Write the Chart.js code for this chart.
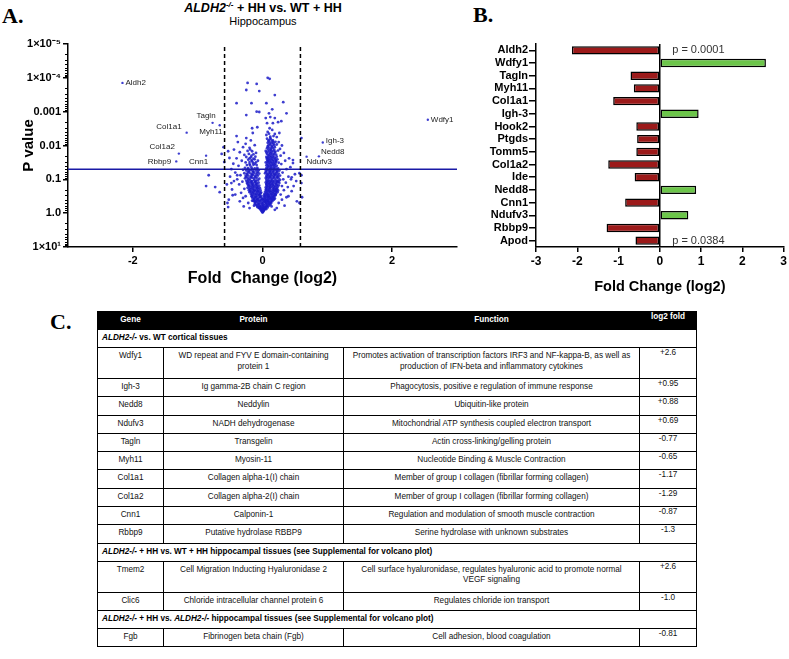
<!DOCTYPE html>
<html>
<head>
<meta charset="utf-8">
<script src="https://cdn.jsdelivr.net/npm/chart.js@4.4.1/dist/chart.umd.min.js"></script>
<style>
  body { margin: 0; width: 789px; height: 659px; background: #fff; position: relative; overflow: hidden; font-family: 'Liberation Sans', Arial, sans-serif; }
  .panel { position: absolute; font-family: 'Liberation Serif', 'Times New Roman', serif; font-weight: bold; font-size: 22px; line-height: 22px; }
  #titleA { position: absolute; left: 0; width: 526px; top: 1px; text-align: center; font-size: 12.5px; font-weight: bold; line-height: 14px; }
  #titleA sup { font-size: 8px; vertical-align: 5px; line-height: 0; font-style: italic; }
  #subA { position: absolute; left: 0; width: 526px; top: 15px; text-align: center; font-size: 11px; line-height: 13px; }
  canvas { position: absolute; }
  #tbl { position: absolute; left: 97px; top: 311px; border-collapse: collapse; table-layout: fixed; width: 599px; font-size: 8.2px; color: #111; }
  #tbl td, #tbl th { border: 1px solid #000; padding: 0; vertical-align: top; text-align: center; white-space: pre-line; line-height: 10.5px; }
  #tbl th { background: #000; color: #fff; font-weight: bold; padding-top: 3px; }
  #tbl th.fold { padding-top: 0; }
  #tbl td { padding-top: 3px; }
  #tbl td.fold { padding-top: 0; }
  #tbl tr.hd { height: 18px; }
  #tbl tr.sec { height: 18px; }
  #tbl tr.sec td { text-align: left; padding-left: 4px; font-weight: bold; color: #000; }
  #tbl tr.r1 { height: 18.3px; }
  #tbl tr.r2 { height: 31px; }
</style>
</head>
<body>
<div class="panel" style="left:2px;top:5px">A.</div>
<div class="panel" style="left:473px;top:4px">B.</div>
<div class="panel" style="left:50px;top:311px">C.</div>
<div id="titleA"><i>ALDH2</i><sup>-/-</sup> + HH vs. WT + HH</div>
<div id="subA">Hippocampus</div>
<canvas id="volcano" width="462" height="295" style="left:0;top:0"></canvas>
<canvas id="bars" width="329" height="300" style="left:460px;top:0"></canvas>
<table id="tbl">
  <colgroup><col style="width:66px"><col style="width:180px"><col style="width:296px"><col style="width:57px"></colgroup>
  <tbody id="tbody"></tbody>
</table>
<script>
// ---- volcano (panel A) ----
const fcCutoff = 0.585;
const pCutoff = 0.05;
const volcanoXTicks = [-2, 0, 2];
const volcanoYTicks = [-1, 0, 1, 2, 3, 4, 5]; // -log10(p)
const volcanoYLabels = ['1×10¹', '1.0', '0.1', '0.01', '0.001', '1×10⁻⁴', '1×10⁻⁵'];

const geneNames = ['Aldh2', 'Wdfy1', 'Tagln', 'Myh11', 'Col1a1', 'Col1a2', 'Rbbp9', 'Cnn1', 'Igh-3', 'Nedd8', 'Ndufv3'];
const geneFC = [-2.16, 2.55, -0.77, -0.66, -1.17, -1.29, -1.33, -0.87, 0.93, 0.87, 0.68];
const geneNegLogP = [3.85, 2.76, 2.67, 2.6, 2.38, 1.76, 1.53, 1.7, 2.09, 1.68, 1.67];

// unlabelled proteins, [log2 fold, -log10 p]
const cloud = [
  [0.00,0.02],[0.01,0.04],[-0.01,0.05],[0.02,0.07],[-0.02,0.08],[0.03,0.10],[-0.03,0.11],[0.00,0.09],[0.04,0.13],[-0.04,0.14],[0.01,0.12],[0.05,0.15],[-0.05,0.15],[0.02,0.14],[-0.01,0.13],[0.06,0.12],
  [0.0,0.06],[0.02,0.1],[-0.02,0.12],[0.03,0.16],[-0.04,0.18],[0.05,0.19],[-0.06,0.16],[0.07,0.21],[-0.08,0.22],[0.0,0.15],[0.01,0.21],[-0.03,0.2],
  [-0.08,0.18],[-0.06,0.2],[-0.03,0.17],[0.0,0.19],[0.03,0.18],[0.06,0.2],[0.08,0.17],[0.1,0.22],[-0.1,0.24],[-0.07,0.26],[-0.04,0.23],[-0.01,0.25],[0.02,0.24],[0.05,0.26],[0.07,0.23],[0.09,0.27],[0.12,0.25],
  [-0.11,0.3],[-0.09,0.32],[-0.05,0.29],[-0.02,0.31],[0.01,0.3],[0.04,0.33],[0.06,0.29],[0.08,0.32],[0.11,0.3],[0.13,0.33],[-0.12,0.34],[-0.07,0.35],[0.03,0.35],[0.1,0.35],[-0.13,0.22],[0.14,0.2],
  [-0.12,0.27],[-0.06,0.28],[0.0,0.27],[0.05,0.3],[0.1,0.28],[0.13,0.29],[-0.14,0.36],[-0.11,0.35],[-0.04,0.36],[0.0,0.34],[0.06,0.36],[0.09,0.34],[0.15,0.35],
  [-0.16,0.37],[-0.13,0.39],[-0.1,0.38],[-0.08,0.4],[-0.05,0.37],[-0.02,0.39],[0.0,0.41],[0.02,0.38],[0.05,0.4],[0.07,0.37],[0.09,0.39],[0.12,0.41],[0.14,0.38],[0.17,0.4],
  [-0.13,0.42],[-0.07,0.41],[-0.01,0.42],[0.03,0.41],[0.09,0.42],[0.15,0.42],[0.18,0.41],
  [-0.15,0.44],[-0.12,0.46],[-0.09,0.43],[-0.06,0.45],[-0.03,0.47],[0.01,0.44],[0.04,0.46],[0.06,0.43],[0.08,0.47],[0.11,0.45],[0.13,0.43],[0.16,0.46],[0.19,0.44],
  [-0.16,0.48],[-0.1,0.47],[-0.04,0.48],[0.03,0.49],[0.09,0.48],[0.14,0.47],[0.17,0.48],
  [-0.17,0.5],[-0.14,0.52],[-0.11,0.49],[-0.08,0.51],[-0.05,0.53],[-0.02,0.5],[0.02,0.52],[0.05,0.5],[0.07,0.53],[0.1,0.51],[0.12,0.49],[0.15,0.52],[0.18,0.5],[0.2,0.53],
  [-0.16,0.54],[-0.1,0.55],[-0.04,0.55],[0.04,0.55],[0.09,0.54],[0.13,0.55],[0.17,0.54],[0.2,0.55],
  [-0.18,0.57],[-0.15,0.59],[-0.12,0.56],[-0.09,0.58],[-0.06,0.56],[-0.03,0.59],[0.03,0.57],[0.06,0.59],[0.08,0.56],[0.11,0.58],[0.14,0.57],[0.16,0.59],[0.19,0.56],[0.21,0.58],
  [-0.2,0.62],[-0.17,0.63],[-0.14,0.61],[-0.11,0.64],[-0.08,0.62],[-0.05,0.63],[-0.02,0.61],[0.04,0.63],[0.07,0.61],[0.09,0.64],[0.12,0.62],[0.15,0.63],[0.18,0.61],[0.21,0.64],[0.23,0.62],
  [-0.19,0.65],[-0.13,0.66],[-0.07,0.65],[0.06,0.66],[0.11,0.65],[0.17,0.66],[0.2,0.65],
  [-0.21,0.68],[-0.18,0.7],[-0.15,0.67],[-0.12,0.69],[-0.09,0.68],[-0.06,0.7],[-0.03,0.67],[0.05,0.69],[0.08,0.68],[0.1,0.7],[0.13,0.67],[0.16,0.69],[0.19,0.68],[0.22,0.7],[0.24,0.67],
  [-0.2,0.72],[-0.14,0.72],[-0.08,0.73],[0.06,0.72],[0.11,0.73],[0.17,0.72],[0.21,0.72],
  [-0.23,0.75],[-0.19,0.76],[-0.16,0.74],[-0.13,0.77],[-0.1,0.75],[-0.07,0.76],[-0.04,0.74],[0.05,0.76],[0.07,0.74],[0.1,0.77],[0.12,0.75],[0.15,0.76],[0.18,0.74],[0.2,0.77],[0.23,0.75],
  [-0.21,0.79],[-0.15,0.79],[-0.09,0.79],[0.07,0.79],[0.12,0.79],[0.17,0.79],[0.23,0.79],
  [-0.22,0.82],[-0.2,0.84],[-0.17,0.81],[-0.14,0.83],[-0.11,0.82],[-0.08,0.84],[-0.05,0.81],[0.06,0.83],[0.08,0.81],[0.11,0.84],[0.13,0.82],[0.16,0.83],[0.19,0.81],[0.22,0.84],[0.25,0.82],
  [-0.23,0.86],[-0.16,0.86],[-0.1,0.86],[0.06,0.86],[0.1,0.86],[0.15,0.86],[0.21,0.86],
  [-0.24,0.89],[-0.21,0.91],[-0.18,0.9],[-0.15,0.88],[-0.12,0.91],[-0.09,0.89],[-0.06,0.9],[0.05,0.91],[0.07,0.88],[0.09,0.9],[0.12,0.89],[0.14,0.91],[0.17,0.88],[0.2,0.9],[0.23,0.91],[0.26,0.89],
  [-0.23,0.93],[-0.17,0.93],[-0.11,0.93],[0.07,0.93],[0.11,0.93],[0.16,0.93],[0.22,0.93],[0.25,0.93],
  [-0.25,0.96],[-0.22,0.98],[-0.19,0.97],[-0.16,0.95],[-0.13,0.98],[-0.1,0.96],[-0.07,0.97],[0.06,0.98],[0.08,0.95],[0.1,0.97],[0.13,0.96],[0.15,0.98],[0.18,0.95],[0.21,0.97],[0.24,0.96],[0.27,0.98],
  [-0.27,1.03],[-0.23,1.04],[-0.2,1.02],[-0.16,1.05],[-0.13,1.03],[-0.09,1.04],[-0.05,1.02],[0.05,1.04],[0.08,1.02],[0.1,1.05],[0.13,1.03],[0.16,1.04],[0.19,1.02],[0.22,1.05],[0.25,1.03],
  [-0.25,1.07],[-0.18,1.06],[-0.11,1.07],[0.07,1.07],[0.12,1.07],[0.18,1.07],[0.23,1.07],
  [-0.26,1.1],[-0.22,1.11],[-0.18,1.09],[-0.15,1.12],[-0.11,1.1],[-0.07,1.11],[0.06,1.1],[0.09,1.12],[0.11,1.09],[0.14,1.11],[0.17,1.1],[0.2,1.12],[0.24,1.09],[0.27,1.11],
  [-0.24,1.14],[-0.16,1.14],[-0.09,1.14],[0.08,1.14],[0.13,1.14],[0.19,1.14],[0.23,1.14],
  [-0.28,1.18],[-0.24,1.17],[-0.2,1.19],[-0.17,1.16],[-0.13,1.18],[-0.09,1.19],[-0.05,1.17],[0.04,1.18],[0.07,1.16],[0.1,1.19],[0.12,1.17],[0.15,1.18],[0.18,1.16],[0.21,1.19],[0.25,1.17],
  [-0.22,1.22],[-0.15,1.22],[-0.07,1.22],[0.06,1.22],[0.12,1.22],[0.17,1.22],[0.22,1.22],
  [-0.25,1.26],[-0.21,1.25],[-0.18,1.27],[-0.14,1.24],[-0.1,1.26],[-0.06,1.27],[0.05,1.25],[0.08,1.27],[0.11,1.24],[0.13,1.26],[0.16,1.25],[0.19,1.27],[0.23,1.24],[0.26,1.26],
  [-0.23,1.3],[-0.16,1.3],[-0.08,1.3],[0.07,1.3],[0.12,1.3],[0.18,1.3],[0.22,1.29],
  [-0.27,1.34],[-0.22,1.33],[-0.17,1.35],[-0.12,1.32],[-0.08,1.34],[0.06,1.33],[0.09,1.35],[0.12,1.32],[0.14,1.34],[0.17,1.33],[0.2,1.35],[0.24,1.32],
  [0.08,1.38],[0.13,1.38],[0.18,1.38],
  [-0.24,1.42],[-0.19,1.41],[-0.14,1.43],[-0.09,1.42],[0.06,1.41],[0.09,1.43],[0.11,1.4],[0.14,1.42],[0.16,1.41],[0.19,1.43],[0.22,1.4],
  [0.07,1.46],[0.12,1.46],[0.17,1.46],[0.2,1.46],[-0.2,1.45],[-0.12,1.46],
  [-0.26,1.5],[-0.2,1.51],[-0.15,1.49],[-0.1,1.5],[0.05,1.5],[0.08,1.52],[0.1,1.49],[0.13,1.51],[0.15,1.48],[0.18,1.5],[0.21,1.52],[0.25,1.49],
  [0.08,1.54],[0.11,1.54],[0.16,1.54],[0.21,1.54],[-0.16,1.54],[-0.07,1.55],
  [-0.22,1.58],[-0.17,1.57],[-0.12,1.59],[0.07,1.58],[0.09,1.56],[0.12,1.59],[0.14,1.57],[0.17,1.58],[0.2,1.56],[0.23,1.59],
  [0.07,1.62],[0.1,1.61],[0.15,1.62],[0.2,1.61],[-0.2,1.62],[-0.14,1.61],
  [-0.25,1.66],[-0.18,1.65],[-0.11,1.67],[0.06,1.66],[0.08,1.64],[0.11,1.67],[0.13,1.65],[0.16,1.66],[0.19,1.64],[0.22,1.67],
  [0.09,1.7],[0.13,1.7],[0.17,1.7],[-0.17,1.7],
  [-0.21,1.75],[-0.14,1.74],[0.07,1.75],[0.1,1.73],[0.12,1.76],[0.15,1.74],[0.18,1.75],[0.21,1.73],
  [0.06,1.79],[0.11,1.79],[0.14,1.79],[0.19,1.79],[-0.1,1.78],
  [-0.23,1.84],[-0.16,1.83],[0.05,1.84],[0.08,1.82],[0.11,1.85],[0.14,1.83],[0.17,1.84],[0.2,1.82],[0.24,1.85],
  [0.09,1.88],[0.13,1.88],[0.18,1.88],[-0.19,1.88],
  [0.07,1.92],[0.1,1.94],[0.13,1.91],[0.16,1.93],[0.19,1.95],[-0.2,1.93],[0.08,1.97],[0.14,1.96],
  [0.09,2.0],[0.12,2.02],[0.15,1.99],[0.18,2.01],[0.22,2.03],[-0.12,2.01],[0.11,2.05],[0.17,2.05],
  [0.08,2.08],[0.11,2.1],[0.14,2.07],[0.17,2.09],[0.2,2.11],[0.09,2.13],[0.15,2.12],[0.1,2.16],[0.13,2.18],[0.16,2.15],[0.07,2.2],[-0.18,2.15],
  [0.12,2.26],[0.17,2.28],[0.1,2.35],
  [-0.3,0.45],[-0.33,0.6],[-0.28,0.72],[-0.36,0.85],[-0.31,0.93],[-0.39,1.0],[-0.34,1.12],[-0.42,1.2],[-0.3,1.28],[-0.37,1.4],[-0.45,1.46],[-0.32,1.55],[-0.4,1.62],[-0.28,1.72],[-0.35,1.8],[-0.44,1.88],[-0.3,1.95],[-0.26,2.05],[-0.38,2.1],
  [-0.22,0.3],[-0.26,0.5],[-0.2,0.15],[-0.29,0.2],[-0.35,0.35],[-0.42,0.55],[-0.47,0.7],[-0.44,0.95],[-0.5,1.08],[-0.48,1.3],[-0.52,0.4],[-0.55,0.85],
  [0.3,0.4],[0.28,0.55],[0.33,0.68],[0.3,0.8],[0.36,0.9],[0.32,1.0],[0.4,1.08],[0.31,1.2],[0.37,1.3],[0.43,1.36],[0.29,1.45],[0.35,1.55],[0.41,1.62],[0.28,1.7],[0.33,1.78],[0.27,1.9],[0.3,2.0],[0.25,2.1],
  [0.22,0.15],[0.25,0.3],[0.19,0.1],[0.34,0.22],[0.4,0.5],[0.45,0.65],[0.48,0.8],[0.44,1.0],[0.5,1.15],[0.47,1.48],[0.53,0.35],[0.52,0.95],[0.39,0.77],[0.45,1.06],[0.37,0.47],
  [-0.6,1.95],[-0.63,1.75],[-0.83,1.12],[-0.87,0.8],[-0.73,0.77],[-0.66,0.62],[-0.53,1.83],[-0.59,1.51],[-0.51,1.63],[-0.48,0.89],[-0.54,0.3],[-0.53,0.18],[-0.46,0.53],[-0.39,1.12],
  [0.6,2.22],[0.57,1.18],[0.6,0.89],[0.57,0.3],[0.47,1.57],[0.6,1.12],[0.61,0.47],
  [0.08,4.0],[0.11,3.97],[-0.23,3.85],[-0.09,3.82],[-0.25,3.64],[-0.05,3.61],[0.19,3.49],[-0.4,3.25],[-0.17,3.25],[0.06,3.25],[0.32,3.28],
  [-0.09,3.0],[-0.05,2.99],[-0.25,2.9],[0.15,3.07],[0.1,2.95],[0.37,2.95],[0.05,2.81],[0.12,2.84],[0.19,2.81],[0.24,2.69],[0.29,2.72],[0.07,2.66],[0.16,2.66],
  [-0.08,2.54],[-0.16,2.51],[0.11,2.51],[0.08,2.4],[0.15,2.46],[0.19,2.34],[0.26,2.37],[0.06,2.31],[-0.15,2.37],[-0.4,2.28],[-0.25,2.22],[0.22,2.25],[0.12,2.22]
];

// ---- bar chart (panel B) ----
const barGenes = ['Aldh2', 'Wdfy1', 'Tagln', 'Myh11', 'Col1a1', 'Igh-3', 'Hook2', 'Ptgds', 'Tomm5', 'Col1a2', 'Ide', 'Nedd8', 'Cnn1', 'Ndufv3', 'Rbbp9', 'Apod'];
const barFC = [-2.13, 2.57, -0.71, -0.63, -1.13, 0.94, -0.57, -0.55, -0.57, -1.25, -0.61, 0.88, -0.84, 0.69, -1.29, -0.59];
const barNoteGenes = ['Aldh2', 'Apod'];
const barNotes = ['p = 0.0001', 'p = 0.0384'];

// ---- table (panel C) ----
const groupTitles = [
  '<i>ALDH2-/-</i> vs. WT cortical tissues',
  '<i>ALDH2-/-</i> + HH vs. WT + HH hippocampal tissues (see Supplemental for volcano plot)',
  '<i>ALDH2-/-</i> + HH vs. <i>ALDH2-/-</i> hippocampal tissues (see Supplemental for volcano plot)'
];
const tableGroup = [0, 0, 0, 0, 0, 0, 0, 0, 0, 0, 1, 1, 2];
const tableGene = ['Wdfy1', 'Igh-3', 'Nedd8', 'Ndufv3', 'Tagln', 'Myh11', 'Col1a1', 'Col1a2', 'Cnn1', 'Rbbp9', 'Tmem2', 'Clic6', 'Fgb'];
const tableProtein = ['WD repeat and FYV E domain-containing\nprotein 1', 'Ig gamma-2B chain C region', 'Neddylin', 'NADH dehydrogenase', 'Transgelin', 'Myosin-11', 'Collagen alpha-1(I) chain', 'Collagen alpha-2(I) chain', 'Calponin-1', 'Putative hydrolase RBBP9', 'Cell Migration Inducting Hyaluronidase 2', 'Chloride intracellular channel protein 6', 'Fibrinogen beta chain (Fgb)'];
const tableFunction = ['Promotes activation of transcription factors IRF3 and NF-kappa-B, as well as\nproduction of IFN-beta and inflammatory cytokines', 'Phagocytosis, positive e regulation of immune response', 'Ubiquitin-like protein', 'Mitochondrial ATP synthesis coupled electron transport', 'Actin cross-linking/gelling protein', 'Nucleotide Binding & Muscle Contraction', 'Member of group I collagen (fibrillar forming collagen)', 'Member of group I collagen (fibrillar forming collagen)', 'Regulation and modulation of smooth muscle contraction', 'Serine hydrolase with unknown substrates', 'Cell surface hyaluronidase, regulates hyaluronic acid to promote normal\nVEGF signaling', 'Regulates chloride ion transport', 'Cell adhesion, blood coagulation'];
const tableFold = ['+2.6', '+0.95', '+0.88', '+0.69', '-0.77', '-0.65', '-1.17', '-1.29', '-0.87', '-1.3', '+2.6', '-1.0', '-0.81'];

const BLUE_PT = 'rgba(28, 28, 200, 0.85)';
const RED = '#9c1a1a';
const GREEN = '#6cc54a';

// gene label placement: [dx, dy, align] from the point
const labelPlace = {
  Aldh2: [3, 0, 'left'], Wdfy1: [3, 0, 'left'], Tagln: [3, -7, 'right'], Myh11: [3, 7, 'right'],
  Col1a1: [-5, -6, 'right'], Col1a2: [-4, -7, 'right'], Rbbp9: [-5, 0, 'right'], Cnn1: [2, 6, 'right'],
  'Igh-3': [3, -2, 'left'], Nedd8: [2, -5, 'left'], Ndufv3: [0, 5, 'left']
};

const geneLabels = {
  id: 'geneLabels',
  afterDatasetsDraw(chart) {
    const { ctx, scales: { x, y } } = chart;
    ctx.save();
    ctx.font = '8px "Liberation Sans", Arial, sans-serif';
    ctx.fillStyle = '#222';
    ctx.textBaseline = 'middle';
    geneNames.forEach((g, i) => {
      const p = labelPlace[g];
      ctx.textAlign = p[2];
      ctx.fillText(g, x.getPixelForValue(geneFC[i]) + p[0], y.getPixelForValue(geneNegLogP[i]) + p[1]);
    });
    ctx.restore();
  }
};

const minorTicks = {
  id: 'minorTicks',
  afterDraw(chart) {
    const { ctx, chartArea, scales: { y } } = chart;
    ctx.save();
    ctx.strokeStyle = '#000';
    ctx.lineWidth = 1;
    for (let d = -1; d < 5; d++) {
      for (let k = 2; k < 10; k++) {
        const py = Math.round(y.getPixelForValue(d + 1 - Math.log10(k))) + 0.5;
        ctx.beginPath();
        ctx.moveTo(chartArea.left - 3, py);
        ctx.lineTo(chartArea.left, py);
        ctx.stroke();
      }
    }
    ctx.restore();
  }
};

const pLine = -Math.log10(pCutoff);

new Chart(document.getElementById('volcano'), {
  type: 'scatter',
  data: {
    datasets: [
      {
        data: cloud.map(([fc, nlp]) => ({ x: fc, y: nlp })),
        backgroundColor: BLUE_PT, borderWidth: 0, pointRadius: 1.4, order: 2
      },
      {
        data: geneFC.map((fc, i) => ({ x: fc, y: geneNegLogP[i] })),
        backgroundColor: BLUE_PT, borderWidth: 0, pointRadius: 1.2, order: 2
      },
      {
        type: 'line', data: [{ x: -fcCutoff, y: -1 }, { x: -fcCutoff, y: 5 }],
        borderColor: '#000', borderWidth: 1.5, borderDash: [4, 3], pointRadius: 0, order: 1
      },
      {
        type: 'line', data: [{ x: fcCutoff, y: -1 }, { x: fcCutoff, y: 5 }],
        borderColor: '#000', borderWidth: 1.5, borderDash: [4, 3], pointRadius: 0, order: 1
      },
      {
        type: 'line', data: [{ x: -3, y: pLine }, { x: 3, y: pLine }],
        borderColor: '#1a1aa6', borderWidth: 1.5, pointRadius: 0, order: 1
      }
    ]
  },
  options: {
    responsive: false,
    animation: false,
    layout: { padding: { top: 44, right: 5, left: 0, bottom: 0 } },
    plugins: { legend: { display: false }, tooltip: { enabled: false } },
    scales: {
      x: {
        type: 'linear', min: -3, max: 3,
        afterBuildTicks: (s) => { s.ticks = volcanoXTicks.map(v => ({ value: v })); },
        afterFit: (s) => { s.height = 48; },
        ticks: { color: '#000', font: { family: '"Liberation Sans", Arial', size: 11, weight: 'bold' }, padding: 2 },
        grid: { drawOnChartArea: false, tickLength: 5, tickColor: '#000', lineWidth: 1.5 },
        border: { color: '#000', width: 1.5 },
        title: { display: true, text: 'Fold  Change (log2)', color: '#000', font: { family: '"Liberation Sans", Arial', size: 16, weight: 'bold' }, padding: { top: 0, bottom: 7 } }
      },
      y: {
        type: 'linear', min: -1, max: 5,
        afterBuildTicks: (s) => { s.ticks = volcanoYTicks.map(v => ({ value: v })); },
        afterFit: (s) => { s.width = 68; },
        ticks: {
          color: '#000', font: { family: '"Liberation Sans", Arial', size: 11, weight: 'bold' }, padding: 2,
          callback: (v) => volcanoYLabels[volcanoYTicks.indexOf(v)]
        },
        grid: { drawOnChartArea: false, tickLength: 5, tickColor: '#000', lineWidth: 1.5 },
        border: { color: '#000', width: 1.5 },
        title: { display: true, text: 'P value', color: '#000', font: { family: '"Liberation Sans", Arial', size: 15, weight: 'bold' }, padding: { top: 20, bottom: 0 } }
      }
    }
  },
  plugins: [geneLabels, minorTicks]
});

const barNotesPlugin = {
  id: 'barNotes',
  afterDatasetsDraw(chart) {
    const { ctx, scales: { x, y } } = chart;
    ctx.save();
    ctx.font = '11px "Liberation Sans", Arial, sans-serif';
    ctx.fillStyle = '#333';
    ctx.textBaseline = 'middle';
    ctx.textAlign = 'left';
    barNoteGenes.forEach((g, i) => {
      ctx.fillText(barNotes[i], x.getPixelForValue(0.3), y.getPixelForValue(barGenes.indexOf(g)));
    });
    ctx.restore();
  }
};

new Chart(document.getElementById('bars'), {
  type: 'bar',
  data: {
    labels: barGenes,
    datasets: [{
      data: barFC,
      backgroundColor: barFC.map(v => v < 0 ? RED : GREEN),
      borderColor: '#000', borderWidth: 1.5, borderSkipped: false,
      categoryPercentage: 1, barPercentage: 0.66
    }]
  },
  options: {
    indexAxis: 'y',
    responsive: false,
    animation: false,
    layout: { padding: { top: 44, right: 5, left: 0, bottom: 0 } },
    plugins: { legend: { display: false }, tooltip: { enabled: false } },
    scales: {
      x: {
        min: -3, max: 3,
        afterFit: (s) => { s.height = 53; },
        ticks: { stepSize: 1, color: '#000', font: { family: '"Liberation Sans", Arial', size: 12, weight: 'bold' }, padding: 2 },
        grid: {
          color: (c) => (c.tick && c.tick.value === 0) ? '#000' : 'rgba(0,0,0,0)',
          lineWidth: 1.5, tickColor: '#000', tickLength: 5
        },
        border: { color: '#000', width: 1.5 },
        title: { display: true, text: 'Fold Change (log2)', color: '#000', font: { family: '"Liberation Sans", Arial', size: 14.5, weight: 'bold' }, padding: { top: 0, bottom: 4 } }
      },
      y: {
        afterFit: (s) => { s.width = 76; },
        ticks: { autoSkip: false, color: '#000', font: { family: '"Liberation Sans", Arial', size: 11, weight: 'bold' }, padding: 1 },
        grid: { offset: false, drawOnChartArea: false, tickColor: '#000', tickLength: 7, lineWidth: 1.5 },
        border: { color: '#000', width: 1.5 }
      }
    }
  },
  plugins: [barNotesPlugin]
});

// build table
const tbody = document.getElementById('tbody');
const hd = document.createElement('tr');
hd.className = 'hd';
['Gene', 'Protein', 'Function', 'log2 fold'].forEach((t, i) => {
  const th = document.createElement('th');
  th.textContent = t;
  if (i === 3) th.className = 'fold';
  hd.appendChild(th);
});
tbody.appendChild(hd);
let lastGroup = -1;
tableGene.forEach((g, i) => {
  if (tableGroup[i] !== lastGroup) {
    lastGroup = tableGroup[i];
    const sr = document.createElement('tr');
    sr.className = 'sec';
    const td = document.createElement('td');
    td.colSpan = 4;
    td.innerHTML = groupTitles[lastGroup];
    sr.appendChild(td);
    tbody.appendChild(sr);
  }
  const tr = document.createElement('tr');
  const two = tableProtein[i].includes('\n') || tableFunction[i].includes('\n');
  tr.className = two ? 'r2' : 'r1';
  [g, tableProtein[i], tableFunction[i], tableFold[i]].forEach((t, j) => {
    const td = document.createElement('td');
    td.textContent = t;
    if (j === 3) td.className = 'fold';
    tr.appendChild(td);
  });
  tbody.appendChild(tr);
});
</script>
</body>
</html>
